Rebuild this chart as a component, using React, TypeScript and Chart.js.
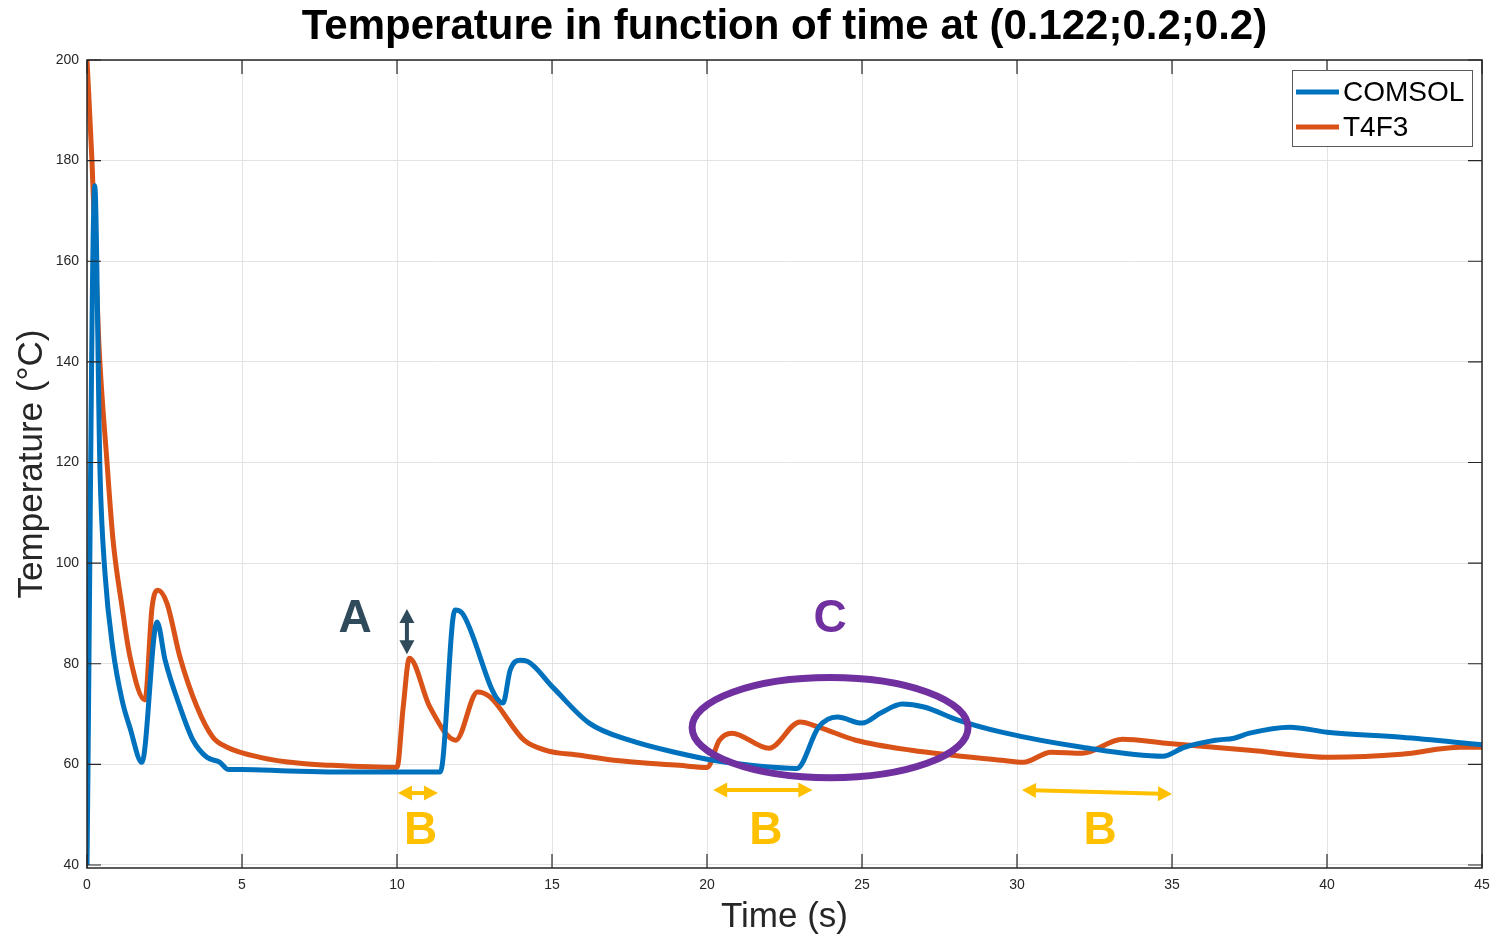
import { useEffect, useRef } from "react";
import { Chart, registerables } from "chart.js";

Chart.register(...registerables);

// ---- Data ----
const comsolT = [0, 0.25, 0.42, 0.58, 0.84, 1.13, 1.39, 1.77, 2.26, 2.52, 3.0, 3.42, 3.87, 4.29, 4.55, 5.0, 6.5, 8, 11.4, 11.87, 12.1, 13.42, 13.65, 13.97, 14.2, 15.03, 16.2, 17.5, 19.1, 20.4, 22.9, 23.6, 24.2, 25.0, 25.6, 26.3, 27.0, 28.1, 29.5, 32.1, 34.7, 35.4, 36.4, 37.0, 37.5, 38.8, 40, 42.4, 45];
const comsolY = [40, 175, 118, 98, 82.7, 72.8, 67.2, 60.4, 88.3, 80.7, 71.4, 64.8, 61.4, 60.4, 59.0, 59.0, 58.7, 58.5, 58.5, 90.7, 90.1, 72.2, 78.7, 80.7, 80.5, 75.3, 68.2, 64.8, 62.2, 60.6, 59.2, 67.4, 69.4, 68.2, 70.2, 72.0, 71.4, 68.8, 66.4, 63.4, 61.6, 63.4, 64.8, 65.2, 66.2, 67.4, 66.4, 65.4, 63.9];

const t4f3T = [0, 0.16, 0.38, 0.64, 0.84, 1.13, 1.39, 1.87, 2.1, 2.29, 2.58, 3.0, 3.55, 4.06, 4.52, 5.58, 6.87, 7.9, 10.0, 10.2, 10.4, 11.06, 11.9, 12.6, 13.0, 14.1, 14.8, 15.9, 17.0, 19.1, 20.0, 20.4, 20.8, 22.0, 23.0, 23.6, 24.8, 26.6, 29.5, 30.2, 31.1, 32.1, 33.4, 34.8, 37.5, 40.1, 42.4, 44.3, 45];
const t4f3Y = [200, 180, 144, 120.5, 104.6, 91.3, 81.3, 72.8, 91.3, 94.6, 92.0, 81.3, 71.4, 65.4, 63.4, 61.4, 60.2, 59.8, 59.4, 71.4, 81.1, 71.4, 64.8, 74.4, 73.4, 64.8, 62.8, 61.8, 60.8, 59.8, 59.4, 64.8, 66.2, 63.2, 68.4, 67.4, 64.8, 62.8, 60.8, 60.4, 62.4, 62.2, 65.0, 64.2, 62.8, 61.4, 62.0, 63.4, 63.4];

const xTicks = [0, 5, 10, 15, 20, 25, 30, 35, 40, 45];
const yTicks = [40, 60, 80, 100, 120, 140, 160, 180, 200];

const seriesNames = ["COMSOL", "T4F3"];
const seriesColors = ["#0072BD", "#D95319"];

const titleText = "Temperature in function of time at (0.122;0.2;0.2)";
const xTitle = "Time (s)";
const yTitle = "Temperature (°C)";

// annotations in data units
const labelA = { text: "A", x: 8.65, y: 89.3 };
const arrowA = { x: 10.32, y1: 90.9, y2: 81.9 };
const labelsB = [
  { text: "B", x: 10.76, y: 47.1 },
  { text: "B", x: 21.9, y: 47.1 },
  { text: "B", x: 32.68, y: 47.1 },
];
const arrowsB = [
  { x1: 10.03, y1: 54.3, x2: 11.32, y2: 54.3 },
  { x1: 20.2, y1: 54.9, x2: 23.4, y2: 54.9 },
  { x1: 30.16, y1: 54.9, x2: 35.0, y2: 54.1 },
];
const labelC = { text: "C", x: 23.97, y: 89.3 };
const ellipseC = { cx: 23.97, cy: 67.3, rx: 4.45, ry: 9.95 };

const FONT = "'Liberation Sans', Arial, sans-serif";

function drawDoubleArrow(ctx: CanvasRenderingContext2D, x1: number, y1: number, x2: number, y2: number, color: string, lw: number, headLen: number, headW: number) {
  const ang = Math.atan2(y2 - y1, x2 - x1);
  const cos = Math.cos(ang), sin = Math.sin(ang);
  ctx.save();
  ctx.strokeStyle = color;
  ctx.fillStyle = color;
  ctx.lineWidth = lw;
  ctx.beginPath();
  ctx.moveTo(x1 + cos * headLen * 0.8, y1 + sin * headLen * 0.8);
  ctx.lineTo(x2 - cos * headLen * 0.8, y2 - sin * headLen * 0.8);
  ctx.stroke();
  const head = (px: number, py: number, dir: number) => {
    const bx = px - dir * cos * headLen, by = py - dir * sin * headLen;
    ctx.beginPath();
    ctx.moveTo(px, py);
    ctx.lineTo(bx - sin * headW / 2, by + cos * headW / 2);
    ctx.lineTo(bx + sin * headW / 2, by - cos * headW / 2);
    ctx.closePath();
    ctx.fill();
  };
  head(x2, y2, 1);
  head(x1, y1, -1);
  ctx.restore();
}

const overlayPlugin = {
  id: "overlay",
  afterDatasetsDraw(chart: any) {
    const { ctx, chartArea: ca, scales } = chart;
    const xs = scales.x, ys = scales.y;
    const px = (v: number) => xs.getPixelForValue(v);
    const py = (v: number) => ys.getPixelForValue(v);
    ctx.save();

    // box
    ctx.strokeStyle = "#262626";
    ctx.lineWidth = 1.5;
    ctx.strokeRect(ca.left, ca.top, ca.right - ca.left, ca.bottom - ca.top);
    // inner ticks
    const tl = 14;
    ctx.lineWidth = 1.2;
    ctx.beginPath();
    xTicks.forEach((t) => {
      const x = px(t);
      ctx.moveTo(x, ca.bottom);
      ctx.lineTo(x, ca.bottom - tl);
      ctx.moveTo(x, ca.top);
      ctx.lineTo(x, ca.top + tl);
    });
    yTicks.forEach((t) => {
      const y = py(t);
      ctx.moveTo(ca.left, y);
      ctx.lineTo(ca.left + tl, y);
      ctx.moveTo(ca.right, y);
      ctx.lineTo(ca.right - tl, y);
    });
    ctx.stroke();

    // ellipse C
    ctx.save();
    ctx.strokeStyle = "#7030A0";
    ctx.lineWidth = 7;
    const ecx = px(ellipseC.cx), ecy = py(ellipseC.cy);
    const erx = Math.abs(px(ellipseC.cx + ellipseC.rx) - ecx);
    const ery = Math.abs(py(ellipseC.cy + ellipseC.ry) - ecy);
    ctx.beginPath();
    ctx.ellipse(ecx, ecy, erx, ery, 0, 0, Math.PI * 2);
    ctx.stroke();
    ctx.restore();

    // labels
    ctx.textAlign = "center";
    ctx.textBaseline = "middle";
    ctx.font = `bold 46px ${FONT}`;
    ctx.fillStyle = "#2F4A5A";
    ctx.fillText(labelA.text, px(labelA.x), py(labelA.y) + 2);
    ctx.fillStyle = "#7030A0";
    ctx.fillText(labelC.text, px(labelC.x), py(labelC.y) + 2);
    ctx.fillStyle = "#FFC000";
    labelsB.forEach((b) => ctx.fillText(b.text, px(b.x), py(b.y) + 2));

    // arrows
    drawDoubleArrow(ctx, px(arrowA.x), py(arrowA.y1), px(arrowA.x), py(arrowA.y2), "#2F4A5A", 4, 14, 15);
    arrowsB.forEach((a) => drawDoubleArrow(ctx, px(a.x1), py(a.y1), px(a.x2), py(a.y2), "#FFC000", 4, 14, 15));

    // legend
    const lx = 1292, ly = 70, lw = 180, lh = 76;
    ctx.fillStyle = "#ffffff";
    ctx.fillRect(lx, ly, lw, lh);
    ctx.strokeStyle = "#5a5a5a";
    ctx.lineWidth = 1;
    ctx.strokeRect(lx + 0.5, ly + 0.5, lw, lh);
    ctx.font = `28px ${FONT}`;
    ctx.textAlign = "left";
    seriesNames.forEach((n, i) => {
      const yy = ly + 22 + i * 35;
      ctx.strokeStyle = seriesColors[i];
      ctx.lineWidth = 5;
      ctx.beginPath();
      ctx.moveTo(lx + 4, yy);
      ctx.lineTo(lx + 47, yy);
      ctx.stroke();
      ctx.fillStyle = "#000000";
      ctx.fillText(n, lx + 51, yy + 1);
    });

    ctx.restore();
  },
  afterDraw(chart: any) {
    const { ctx, chartArea: ca } = chart;
    ctx.save();
    ctx.fillStyle = "#000000";
    ctx.textAlign = "center";
    ctx.textBaseline = "middle";
    ctx.font = `bold 42px ${FONT}`;
    ctx.fillText(titleText, (ca.left + ca.right) / 2, 27);
    ctx.fillStyle = "#262626";
    ctx.font = `35px ${FONT}`;
    ctx.fillText(xTitle, (ca.left + ca.right) / 2, 917);
    ctx.translate(32, (ca.top + ca.bottom) / 2);
    ctx.rotate(-Math.PI / 2);
    ctx.fillText(yTitle, 0, 0);
    ctx.restore();
  },
};

export default function App() {
  const ref = useRef<HTMLCanvasElement | null>(null);
  useEffect(() => {
    if (!ref.current) return;
    const chart = new Chart(ref.current, {
      type: "line",
      data: {
        datasets: [
          {
            label: seriesNames[0],
            data: comsolT.map((t, i) => ({ x: t, y: comsolY[i] })),
            borderColor: seriesColors[0],
            borderWidth: 5,
            pointRadius: 0,
            cubicInterpolationMode: "monotone",
            fill: false,
          },
          {
            label: seriesNames[1],
            data: t4f3T.map((t, i) => ({ x: t, y: t4f3Y[i] })),
            borderColor: seriesColors[1],
            borderWidth: 5,
            pointRadius: 0,
            cubicInterpolationMode: "monotone",
            fill: false,
          },
        ],
      },
      options: {
        animation: false,
        responsive: false,
        layout: { padding: { top: 60, right: 9, left: 0, bottom: 0 } },
        plugins: { legend: { display: false }, title: { display: false }, tooltip: { enabled: false } },
        scales: {
          x: {
            type: "linear",
            min: 0,
            max: 45,
            afterBuildTicks: (s: any) => { s.ticks = xTicks.map((v) => ({ value: v })); },
            afterFit: (s: any) => { s.height = 69; s.paddingLeft = 0; s.paddingRight = 0; },
            grid: { color: "#e3e3e3", lineWidth: 1, drawTicks: false },
            border: { display: false },
            ticks: { color: "#262626", font: { family: FONT, size: 14 }, padding: 9, maxRotation: 0, autoSkip: false },
          },
          y: {
            type: "linear",
            min: 39.4,
            max: 200,
            afterBuildTicks: (s: any) => { s.ticks = yTicks.map((v) => ({ value: v })); },
            afterFit: (s: any) => { s.width = 87; s.paddingTop = 0; s.paddingBottom = 0; },
            grid: { color: "#e3e3e3", lineWidth: 1, drawTicks: false },
            border: { display: false },
            ticks: { color: "#262626", font: { family: FONT, size: 14 }, padding: 8, autoSkip: false },
          },
        },
      },
      plugins: [overlayPlugin],
    } as any);
    return () => chart.destroy();
  }, []);
  return (
    <div style={{ position: "absolute", left: 0, top: 0, width: 1491, height: 937, background: "#ffffff" }}>
      <canvas ref={ref} width={1491} height={937} />
    </div>
  );
}
